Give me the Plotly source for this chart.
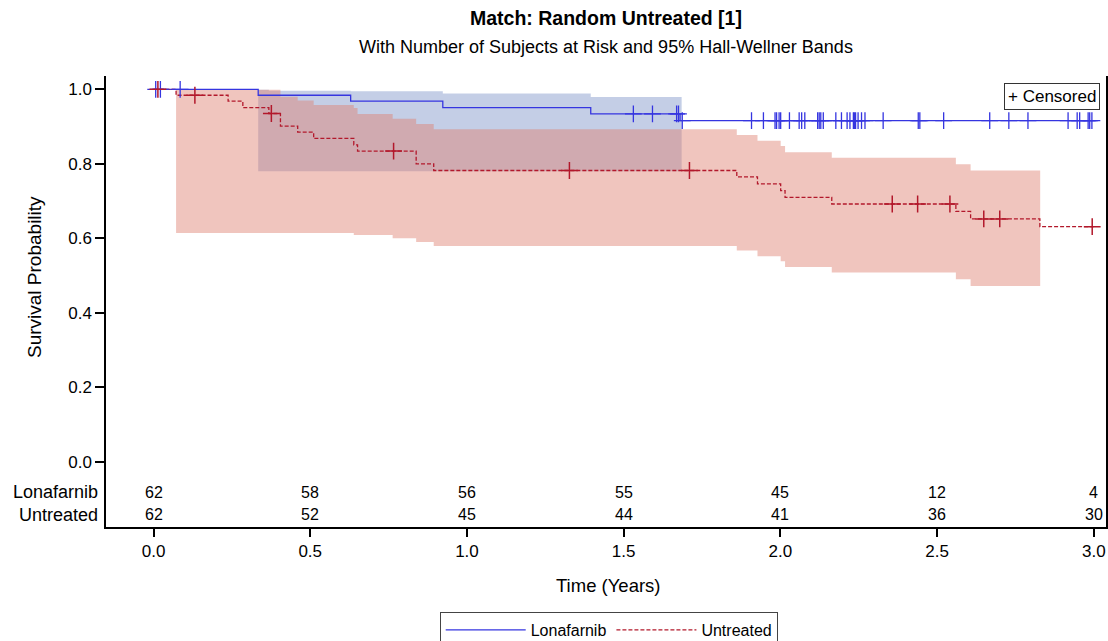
import plotly.graph_objects as go

# ---------------- data ----------------
# Lonafarnib Kaplan-Meier step curve
lona_times = [0.0, 0.334, 0.629, 0.923, 1.395, 1.680]
lona_surv = [1.0, 0.984, 0.968, 0.951, 0.934, 0.916]
lona_end = 3.005
lona_censored = [0.007, 0.022, 0.085, 1.531, 1.592, 1.669, 1.675, 1.687, 1.908,
                 1.946, 1.983, 1.988, 1.996, 2.001, 2.029, 2.060, 2.068, 2.078,
                 2.119, 2.124, 2.129, 2.137, 2.177, 2.195, 2.213, 2.222, 2.233,
                 2.236, 2.240, 2.248, 2.259, 2.270, 2.328, 2.440, 2.445, 2.521,
                 2.668, 2.729, 2.790, 2.918, 2.947, 2.955, 2.982, 2.987, 2.994]
# Lonafarnib 95% Hall-Wellner band
lona_ci_times = [0.334, 0.368, 0.629, 0.923, 1.395]
lona_ci_lower = [0.780, 0.780, 0.780, 0.780, 0.780]
lona_ci_upper = [0.999, 0.996, 0.995, 0.989, 0.979]
lona_ci_end = 1.685

# Untreated Kaplan-Meier step curve
untr_times = [0.0, 0.072, 0.238, 0.285, 0.368, 0.405, 0.460, 0.511, 0.639, 0.651,
              0.838, 0.894, 1.861, 1.927, 2.001, 2.015, 2.164, 2.560, 2.607, 2.828]
untr_surv = [1.0, 0.984, 0.968, 0.951, 0.935, 0.901, 0.885, 0.868, 0.851, 0.834,
             0.800, 0.782, 0.765, 0.746, 0.728, 0.710, 0.692, 0.672, 0.652, 0.631]
untr_end = 3.0
untr_censored = [0.014, 0.132, 0.376, 0.766, 1.327, 1.710, 2.357, 2.438, 2.541,
                 2.649, 2.700, 2.995]
# Untreated 95% Hall-Wellner band
untr_ci_times = [0.072, 0.405, 0.460, 0.511, 0.639, 0.651, 0.763, 0.838, 0.894,
                 1.861, 1.927, 2.001, 2.015, 2.164, 2.560, 2.607]
untr_ci_lower = [0.614, 0.614, 0.614, 0.614, 0.609, 0.609, 0.600, 0.590, 0.579,
                 0.567, 0.552, 0.538, 0.523, 0.508, 0.490, 0.472]
untr_ci_upper = [0.999, 0.980, 0.970, 0.958, 0.950, 0.934, 0.921, 0.907, 0.893,
                 0.877, 0.862, 0.848, 0.831, 0.816, 0.799, 0.782]
untr_ci_end = 2.829

# Number at risk table
risk_times = [0.0, 0.5, 1.0, 1.5, 2.0, 2.5, 3.0]
risk_lona = [62, 58, 56, 55, 45, 12, 4]
risk_untr = [62, 52, 45, 44, 41, 36, 30]

x_ticks = [0.0, 0.5, 1.0, 1.5, 2.0, 2.5, 3.0]
y_ticks = [0.0, 0.2, 0.4, 0.6, 0.8, 1.0]

title_text = "Match: Random Untreated [1]"
subtitle_text = "With Number of Subjects at Risk and 95% Hall-Wellner Bands"

# ---------------- style ----------------
FONT = "Liberation Sans, Arial, sans-serif"
BLUE = "#3535E0"
RED = "#B2182B"
BLUE_FILL = "rgba(126,148,200,0.46)"
RED_FILL = "rgba(222,128,113,0.46)"


def surv_at(t, times, surv):
    val = surv[0]
    for ti, si in zip(times, surv):
        if ti <= t:
            val = si
    return val


fig = go.Figure()

# confidence bands
for ts, lo, up, end, col in [(lona_ci_times, lona_ci_lower, lona_ci_upper, lona_ci_end, BLUE_FILL),
                             (untr_ci_times, untr_ci_lower, untr_ci_upper, untr_ci_end, RED_FILL)]:
    fig.add_trace(go.Scatter(x=ts + [end], y=lo + [lo[-1]], mode="lines",
                             line=dict(width=0, shape="hv"), showlegend=False,
                             hoverinfo="skip"))
    fig.add_trace(go.Scatter(x=ts + [end], y=up + [up[-1]], mode="lines",
                             line=dict(width=0, shape="hv"), fill="tonexty",
                             fillcolor=col, showlegend=False, hoverinfo="skip"))

# survival curves
fig.add_trace(go.Scatter(x=lona_times + [lona_end], y=lona_surv + [lona_surv[-1]],
                         mode="lines", name="Lonafarnib",
                         line=dict(color=BLUE, width=1.3, shape="hv")))
fig.add_trace(go.Scatter(x=untr_times + [untr_end], y=untr_surv + [untr_surv[-1]],
                         mode="lines", name="Untreated",
                         line=dict(color=RED, width=1.3, shape="hv", dash="4px,2px")))

# censored marks
fig.add_trace(go.Scatter(x=lona_censored,
                         y=[surv_at(t, lona_times, lona_surv) for t in lona_censored],
                         mode="markers", showlegend=False, hoverinfo="x+y",
                         marker=dict(symbol="cross-thin", size=12,
                                     line=dict(color=BLUE, width=1.3))))
fig.add_trace(go.Scatter(x=untr_censored,
                         y=[surv_at(t, untr_times, untr_surv) for t in untr_censored],
                         mode="markers", showlegend=False, hoverinfo="x+y",
                         marker=dict(symbol="cross-thin", size=12,
                                     line=dict(color=RED, width=1.5))))

annotations = []
# risk table numbers
for row_y, vals in [(-0.0814, risk_lona), (-0.143, risk_untr)]:
    for t, v in zip(risk_times, vals):
        annotations.append(dict(x=t, y=row_y, xref="x", yref="y", text=str(v),
                                showarrow=False,
                                font=dict(size=16, color="black", family=FONT)))
for row_y, lab in [(-0.0814, "Lonafarnib"), (-0.143, "Untreated")]:
    annotations.append(dict(x=-0.006, y=row_y, xref="paper", yref="y", text=lab,
                            xanchor="right", showarrow=False,
                            font=dict(size=18, color="black", family=FONT)))

# titles
annotations.append(dict(x=0.5, y=1.128, xref="paper", yref="paper",
                        text="<b>" + title_text + "</b>", xanchor="center", yanchor="middle",
                        showarrow=False, font=dict(size=19.5, color="black", family=FONT)))
annotations.append(dict(x=0.5, y=1.064, xref="paper", yref="paper",
                        text=subtitle_text, xanchor="center", yanchor="middle",
                        showarrow=False, font=dict(size=18, color="black", family=FONT)))
annotations.append(dict(x=-0.071, y=0.496, xref="paper", yref="y", text="Survival Probability",
                        textangle=-90, showarrow=False, xanchor="center", yanchor="middle",
                        font=dict(size=19, color="black", family=FONT)))
annotations.append(dict(x=0.5027, y=-0.13, xref="paper", yref="paper", text="Time (Years)",
                        showarrow=False, xanchor="center", yanchor="middle",
                        font=dict(size=18.5, color="black", family=FONT)))
# censored key
annotations.append(dict(x=0.994, y=0.985, xref="paper", yref="paper", text="+ Censored",
                        xanchor="right", yanchor="top", showarrow=False,
                        bordercolor="#333", borderwidth=1, borderpad=3, bgcolor="white",
                        font=dict(size=17, color="black", family=FONT)))

fig.update_layout(
    width=1108, height=641,
    margin=dict(l=106, r=2, t=76, b=114, autoexpand=False),
    paper_bgcolor="white", plot_bgcolor="white",
    font=dict(family=FONT, color="black", size=17),
    xaxis=dict(range=[-0.1516, 3.039], tickvals=x_ticks, tickformat=".1f",
               showline=True, linecolor="black", linewidth=1.5, ticks="outside",
               ticklen=8, tickwidth=1.5, tickcolor="black", showgrid=False,
               zeroline=False, tickfont=dict(size=17)),
    yaxis=dict(range=[-0.1753, 1.0357], tickvals=y_ticks, tickformat=".1f",
               showline=True, linecolor="black", linewidth=1.5, mirror=True,
               ticks="outside", ticklen=9, tickwidth=1.5, tickcolor="black",
               showgrid=False, zeroline=False, tickfont=dict(size=17)),
    legend=dict(orientation="h", x=0.5027, xanchor="center", y=-0.1885, yanchor="top",
                bordercolor="#444", borderwidth=1, itemwidth=80,
                font=dict(size=16, family=FONT), traceorder="normal"),
    showlegend=True,
    annotations=annotations,
)

# remove the default 8px page margin so the 1108x641 figure fills the window exactly
fig.write_html("out.html", config={"displayModeBar": False},
               post_script="document.body.style.margin='0';document.body.style.overflow='hidden';")
